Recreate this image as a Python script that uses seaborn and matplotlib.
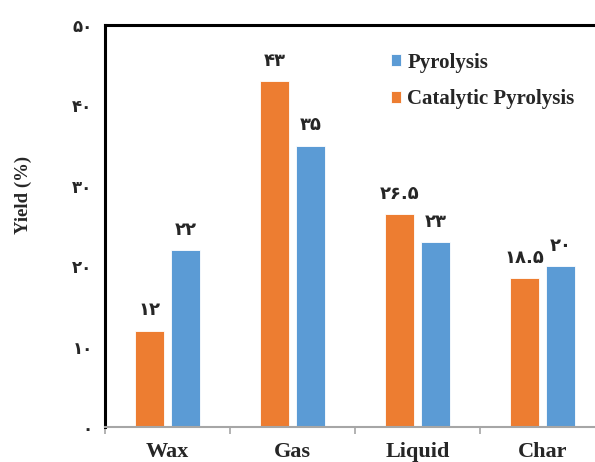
import matplotlib
matplotlib.use("Agg")
import matplotlib.pyplot as plt
import seaborn as sns
import pandas as pd
from matplotlib.ticker import FixedLocator, MultipleLocator

# Product yields (%) for each fraction
categories = ["Wax", "Gas", "Liquid", "Char"]
catalytic = [12, 43, 26.5, 18.5]
pyrolysis = [22, 35, 23, 20]
methods = ["Catalytic Pyrolysis", "Pyrolysis"]
yticks = [0, 10, 20, 30, 40, 50]

colors = {"Catalytic Pyrolysis": "#ED7D31", "Pyrolysis": "#5B9BD5"}
FA = str.maketrans("0123456789", "۰۱۲۳۴۵۶۷۸۹")


def fa(v):
    return f"{v:g}".translate(FA)


df = pd.DataFrame({
    "Fraction": categories * 2,
    "Method": [methods[0]] * len(categories) + [methods[1]] * len(categories),
    "Yield": catalytic + pyrolysis,
})

sns.set_theme(style="white")
serif = ["Liberation Serif", "DejaVu Sans"]
plt.rcParams["font.family"] = serif

fig = plt.figure(figsize=(5.95, 4.62), dpi=100)
ax = fig.add_axes([105 / 595, 35 / 462, 500 / 595, 402 / 462])

sns.barplot(data=df, x="Fraction", y="Yield", hue="Method", order=categories,
            hue_order=methods, palette=colors, saturation=1, width=0.576,
            gap=0.222, edgecolor="white", linewidth=0.6, ax=ax, legend=False)

ax.set_xlim(-0.5, 3.5)
ax.set_ylim(0, 50)
ax.yaxis.set_major_locator(FixedLocator(yticks))
ax.set_yticklabels([fa(t) for t in yticks], family=["DejaVu Sans"],
                   fontweight="bold", fontsize=12)
ax.tick_params(axis="y", length=0, pad=9)

ax.set_xticks(range(len(categories)))
ax.set_xticklabels(categories, family=serif, fontweight="bold", fontsize=16)
ax.tick_params(axis="x", which="major", length=0, pad=11)
ax.xaxis.set_minor_locator(MultipleLocator(1, offset=0.5))
ax.tick_params(axis="x", which="minor", length=5, width=1.2, color="#A6A6A6",
               direction="out", bottom=True)

ax.set_xlabel("")
ax.set_ylabel("Yield (%)", family=serif, fontweight="bold", fontsize=13.5)
ax.yaxis.set_label_coords(-0.146, 0.577)

for side in ["left", "top"]:
    ax.spines[side].set_color("black")
    ax.spines[side].set_linewidth(2.2)
ax.spines["bottom"].set_color("#A6A6A6")
ax.spines["bottom"].set_linewidth(1.5)
ax.spines["right"].set_visible(False)

for cont in ax.containers:
    ax.bar_label(cont, labels=[fa(v) for v in cont.datavalues], padding=8,
                 family=["DejaVu Sans"], fontweight="bold", fontsize=13)

handles = {m: c for m, c in zip(methods, ax.containers)}
leg = ax.legend([handles["Pyrolysis"], handles["Catalytic Pyrolysis"]],
                ["Pyrolysis", "Catalytic Pyrolysis"],
                loc="upper left", bbox_to_anchor=(0.534, 0.978),
                frameon=False, handlelength=0.5, handleheight=0.5,
                handletextpad=0.3, labelspacing=0.8,
                prop={"family": serif, "weight": "bold", "size": 15})

fig.savefig("out.png", dpi=100)
